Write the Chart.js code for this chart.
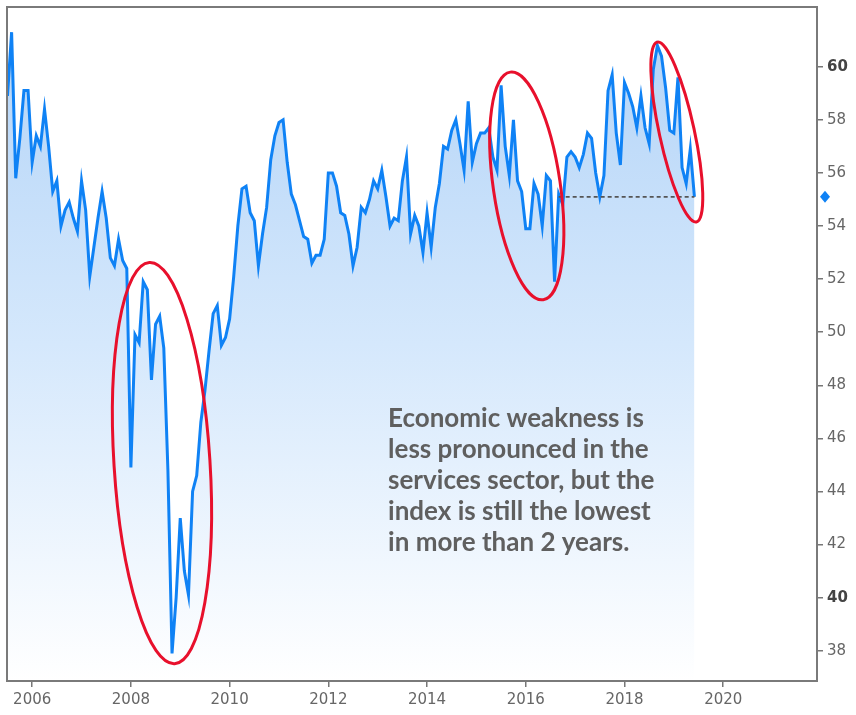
<!DOCTYPE html>
<html>
<head>
<meta charset="utf-8">
<script src="https://cdn.jsdelivr.net/npm/chart.js@4.4.1/dist/chart.umd.min.js"></script>
<style>
  body { margin: 0; background: #fff; }
  #wrap { width: 856px; height: 715px; }
</style>
</head>
<body>
<div id="wrap"><canvas id="myChart" width="856" height="715"></canvas></div>
<script>
// monthly index values, first one is July 2005
const startYear = 2005;
const startMonth = 6;
const pmiValues = [
  58.9, 61.3, 55.8, 57.3, 59.1, 59.1,
  56.4, 57.4, 57.0, 58.4, 57.0, 55.3, 55.7, 54.0, 54.6, 54.9, 54.3, 53.8,
  55.7, 54.6, 52.1, 53.2, 54.3, 55.3, 54.3, 52.8, 52.5, 53.5, 52.7, 52.4,
  44.9, 49.9, 49.6, 51.9, 51.6, 48.2, 50.3, 50.6, 49.4, 44.8, 37.9, 40.0,
  43.0, 41.0, 40.1, 44.0, 44.6, 46.6, 47.8, 49.3, 50.7, 51.0, 49.5, 49.8,
  50.5, 52.1, 54.0, 55.4, 55.5, 54.5, 54.2, 52.5, 53.7, 54.7, 56.5, 57.4,
  57.9, 58.0, 56.4, 55.2, 54.8, 54.2, 53.6, 53.5, 52.6, 52.9, 52.9, 53.5,
  56.0, 56.0, 55.5, 54.5, 54.4, 53.7, 52.5, 53.2, 54.7, 54.5, 55.0, 55.7,
  55.4, 56.1, 55.1, 54.0, 54.3, 54.2, 55.7, 56.6, 53.7, 54.4, 54.0, 53.0,
  54.5, 53.2, 54.7, 55.6, 57.0, 56.9, 57.6, 58.0, 57.1, 56.1, 58.7, 56.4,
  57.1, 57.5, 57.5, 57.7, 56.6, 56.1, 59.3, 57.0, 55.9, 58.0, 55.7, 55.3,
  53.9, 53.9, 55.6, 55.2, 54.0, 55.9, 55.7, 51.9, 55.2, 54.8, 56.6, 56.8,
  56.6, 56.2, 56.7, 57.5, 57.3, 56.0, 55.1, 55.9, 59.1, 59.7, 57.5, 56.3,
  59.4, 59.0, 58.5, 57.7, 58.9, 57.7, 57.1, 59.9, 60.8, 60.4, 59.2, 57.6,
  57.5, 59.6, 56.2, 55.6, 56.9, 55.1
];

const yearTicks = [2006, 2008, 2010, 2012, 2014, 2016, 2018, 2020];
const valueTicks = [38, 40, 42, 44, 46, 48, 50, 52, 54, 56, 58, 60];
const boldTicks = [40, 60];

// last level, dashed back to Sep 2016
const refLevel = 55.1;
const refStartYear = 2016;
const refStartMonth = 8;

const noteLines = [
  "Economic weakness is",
  "less pronounced in the",
  "services sector, but the",
  "index is still the lowest",
  "in more than 2 years."
];

let points = pmiValues.map((v, i) => ({ x: startYear + (startMonth + i) / 12, y: v }));
let lastPoint = points[points.length - 1];
let refLine = [
  { x: refStartYear + refStartMonth / 12, y: refLevel },
  { x: lastPoint.x, y: refLevel }
];

// red ellipses, centre in chart values, radii in px
const rings = [
  { x: 2008.63, y: 45.07, rx: 48, ry: 201, rot: -0.063 },
  { x: 2016.02, y: 55.51, rx: 33.5, ry: 115, rot: -0.144 },
  { x: 2019.06, y: 57.54, rx: 17.5, ry: 92, rot: -0.214 }
];

function isBold(c) {
  return !!(c.tick && boldTicks.includes(c.tick.value));
}

function noPad(s) {
  s.paddingTop = 0;
  s.paddingBottom = 0;
  s.paddingLeft = 0;
  s.paddingRight = 0;
}

const extras = {
  id: 'extras',
  afterDatasetsDraw(chart) {
    const { ctx, scales } = chart;
    const xs = scales.x, ys = scales.y;

    // note text
    ctx.save();
    ctx.fillStyle = '#5f5f5f';
    ctx.font = 'bold 26px Lato';
    ctx.textBaseline = 'alphabetic';
    let tx = xs.getPixelForValue(2013.21);
    let ty = ys.getPixelForValue(46.43);
    noteLines.forEach((line, i) => {
      ctx.fillText(line, tx, ty + i * 31);
    });
    ctx.restore();

    // ellipses
    ctx.save();
    ctx.strokeStyle = '#e8102c';
    ctx.lineWidth = 3;
    rings.forEach(r => {
      ctx.beginPath();
      ctx.ellipse(xs.getPixelForValue(r.x), ys.getPixelForValue(r.y), r.rx, r.ry, r.rot, 0, Math.PI * 2);
      ctx.stroke();
    });
    ctx.restore();
  },
  afterDraw(chart) {
    const { ctx, chartArea, scales } = chart;
    // frame
    ctx.save();
    ctx.strokeStyle = '#7a7a7a';
    ctx.lineWidth = 2;
    ctx.strokeRect(chartArea.left, chartArea.top, chartArea.right - chartArea.left, chartArea.bottom - chartArea.top);
    // last value marker on the axis
    let my = scales.y.getPixelForValue(lastPoint.y);
    let mx = chartArea.right + 8;
    ctx.fillStyle = '#0f82f5';
    ctx.beginPath();
    ctx.moveTo(mx, my - 6);
    ctx.lineTo(mx + 5, my);
    ctx.lineTo(mx, my + 6);
    ctx.lineTo(mx - 5, my);
    ctx.closePath();
    ctx.fill();
    ctx.restore();
  }
};

const ctx = document.getElementById('myChart');

new Chart(ctx, {
  type: 'line',
  data: {
    datasets: [{
      data: points,
      order: 1,
      borderColor: '#0f82f5',
      borderWidth: 3,
      pointRadius: 0,
      tension: 0,
      fill: 'start',
      backgroundColor: (c) => {
        const area = c.chart.chartArea;
        if (!area) return 'rgba(190,220,250,0.6)';
        const g = c.chart.ctx.createLinearGradient(0, area.top, 0, area.bottom);
        g.addColorStop(0, '#b2d3f7');
        g.addColorStop(0.5, '#d5e8fc');
        g.addColorStop(1, '#ffffff');
        return g;
      }
    }, {
      data: refLine,
      order: 0,
      borderColor: '#555',
      borderWidth: 1.8,
      borderDash: [4, 3],
      pointRadius: 0,
      tension: 0,
      fill: false
    }]
  },
  options: {
    responsive: false,
    animation: false,
    layout: { padding: { left: 7, top: 7, right: 0, bottom: 0 } },
    plugins: {
      legend: { display: false },
      tooltip: { enabled: false }
    },
    scales: {
      x: {
        type: 'linear',
        min: 2005.49,
        max: 2021.9,
        afterBuildTicks: s => { s.ticks = yearTicks.map(v => ({ value: v })); },
        afterFit: s => { s.height = 34; noPad(s); },
        border: { display: false },
        grid: { drawOnChartArea: false, drawTicks: true, tickLength: 6, tickColor: '#777', lineWidth: 1.5 },
        ticks: {
          autoSkip: false,
          maxRotation: 0,
          padding: 4,
          color: '#666',
          font: { family: 'DejaVu Sans', size: 15 },
          callback: v => String(v)
        }
      },
      y: {
        position: 'right',
        min: 36.86,
        max: 62.25,
        afterBuildTicks: s => { s.ticks = valueTicks.map(v => ({ value: v })); },
        afterFit: s => { s.width = 39; noPad(s); },
        border: { display: false },
        grid: { drawOnChartArea: false, drawTicks: true, tickLength: 6, tickColor: '#777', lineWidth: 1.5 },
        ticks: {
          autoSkip: false,
          padding: 4,
          color: c => isBold(c) ? '#444' : '#666',
          font: c => ({ family: 'DejaVu Sans', size: 15, weight: isBold(c) ? 'bold' : 'normal' }),
          callback: v => String(v)
        }
      }
    }
  },
  plugins: [extras]
});
</script>
</body>
</html>
